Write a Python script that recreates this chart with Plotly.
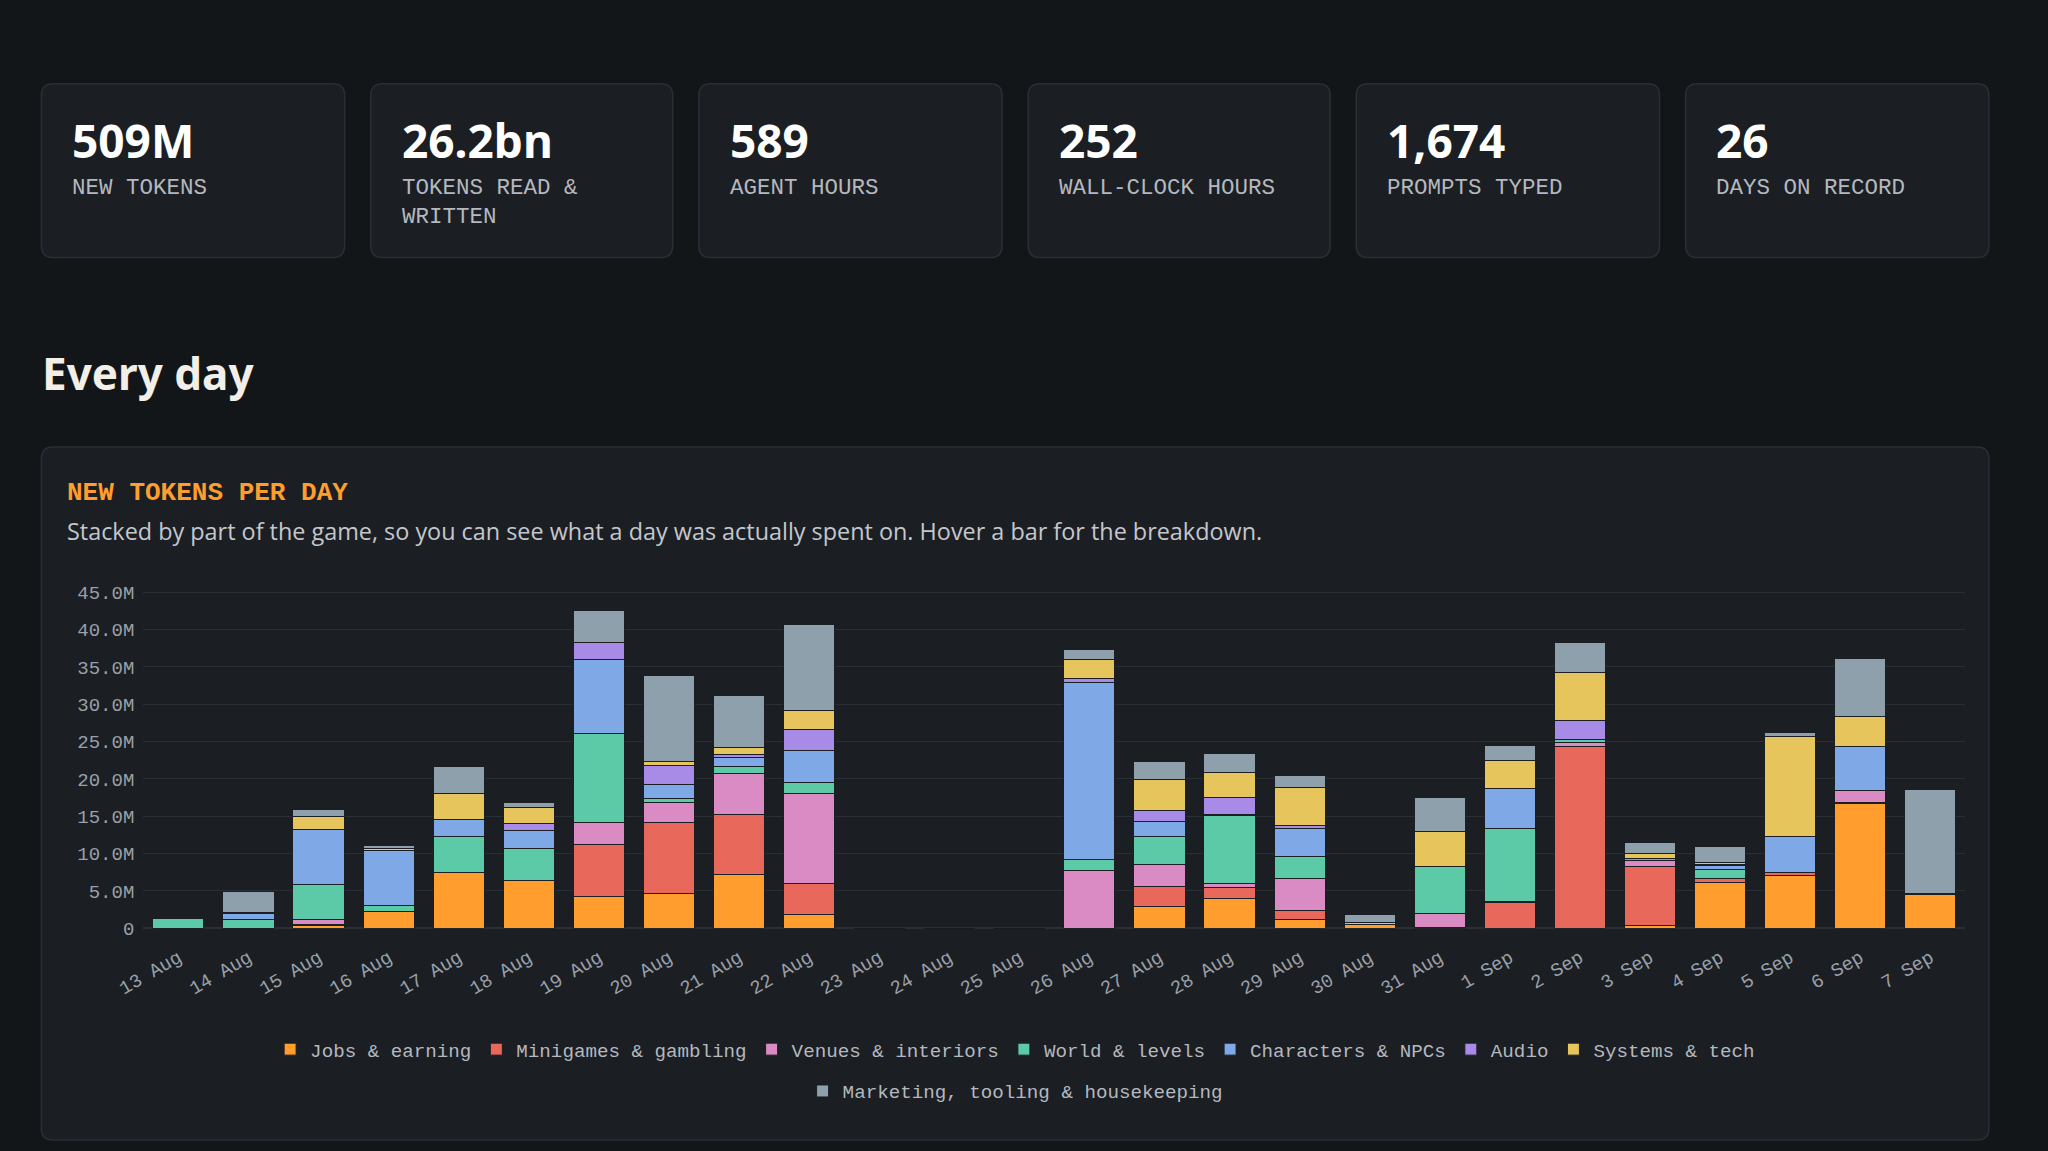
import plotly.graph_objects as go

days = ["13 Aug","14 Aug","15 Aug","16 Aug","17 Aug","18 Aug","19 Aug","20 Aug","21 Aug","22 Aug",
        "23 Aug","24 Aug","25 Aug","26 Aug","27 Aug","28 Aug","29 Aug","30 Aug","31 Aug","1 Sep",
        "2 Sep","3 Sep","4 Sep","5 Sep","6 Sep","7 Sep"]
# values in millions of tokens
jobs       = [0,0,0.4,2.3,7.5,6.4,4.2,4.7,7.2,1.8, 0,0,0, 0,2.9,4.0,1.2,0.5,0,0, 0,0.4,6.1,7.1,16.7,4.5]
minigames  = [0,0,0.15,0,0,0,7.0,9.4,8.0,4.2, 0,0,0, 0,2.7,1.4,1.2,0,0.1,3.4, 24.3,7.8,0.6,0.3,0.2,0.1]
venues     = [0,0,0.65,0,0,0,2.9,2.7,5.5,12.0, 0,0,0, 7.7,2.9,0.6,4.3,0,1.9,0.2, 0.6,0.8,0,0,1.5,0]
world      = [1.3,1.1,4.7,0.7,4.8,4.3,12.0,0.6,1.0,1.5, 0,0,0, 1.5,3.8,9.1,2.9,0,6.2,9.8, 0.4,0,1.1,0,0,0]
characters = [0,0.9,7.3,7.4,2.3,2.4,9.9,1.9,1.1,4.3, 0,0,0, 23.7,2.0,0.1,3.8,0,0,5.3, 0,0,0.6,4.9,5.9,0]
audio      = [0,0.1,0,0,0,0.9,2.2,2.5,0.4,2.8, 0,0,0, 0.6,1.4,2.3,0.4,0,0,0, 2.5,0.3,0.1,0,0,0]
systems    = [0,0,1.7,0.3,3.4,2.1,0.1,0.5,1.0,2.6, 0,0,0, 2.5,4.2,3.4,5.0,0.2,4.8,3.7, 6.5,0.7,0.3,13.4,4.1,0]
marketing  = [0,2.8,1.0,0.4,3.6,0.7,4.2,11.6,6.9,11.5, 0,0,0, 1.3,2.4,2.5,1.6,1.1,4.5,2.1, 3.9,1.5,2.2,0.5,7.7,14.0]

series_names = ["Jobs & earning","Minigames & gambling","Venues & interiors","World & levels",
                "Characters & NPCs","Audio","Systems & tech","Marketing, tooling & housekeeping"]
series_vals = [jobs,minigames,venues,world,characters,audio,systems,marketing]
colors = ["#FF9D2E","#E8695C","#DA8BC3","#5CC9A7","#7EA8E6","#A88BE6","#E6C65C","#8FA0AD"]

ytick_vals = [0,5,10,15,20,25,30,35,40,45]
ytick_text = ["0","5.0M","10.0M","15.0M","20.0M","25.0M","30.0M","35.0M","40.0M","45.0M"]

stat_values = ["509M","26.2bn","589","252","1,674","26"]
stat_labels = ["NEW TOKENS","TOKENS READ &<br>WRITTEN","AGENT HOURS","WALL-CLOCK HOURS","PROMPTS TYPED","DAYS ON RECORD"]

W, H = 2048, 1151
S = 0.755
def px(d): return ((d - 21) / S) / W          # layout positions given in screenshot units
def py(d): return 1 - ((d - 1.5) / S) / H

def rrect(x0, y0, x1, y1, r=9):
    # rounded rectangle path in paper coords; inputs in screenshot units
    rx = r / S / W
    ry = r / S / H
    X0, X1, Y0, Y1 = px(x0), px(x1), py(y1), py(y0)   # Y0 bottom, Y1 top
    return (f"M {X0+rx},{Y0} L {X1-rx},{Y0} Q {X1},{Y0} {X1},{Y0+ry} L {X1},{Y1-ry} "
            f"Q {X1},{Y1} {X1-rx},{Y1} L {X0+rx},{Y1} Q {X0},{Y1} {X0},{Y1-ry} "
            f"L {X0},{Y0+ry} Q {X0},{Y0} {X0+rx},{Y0} Z")

MONO = "Liberation Mono"
fig = go.Figure()
for i, (name, vals, c) in enumerate(zip(series_names, series_vals, colors)):
    fig.add_trace(go.Bar(x=days, y=vals, name=name, legend="legend" if i < 7 else "legend2",
                         marker=dict(color=c, line=dict(width=1, color="#1b1e23"))))

shapes = []
ann = []
card_x = [(32,264),(284,515),(535,767),(787,1018),(1038,1270),(1290,1522)]
for (x0,x1), v, l in zip(card_x, stat_values, stat_labels):
    shapes.append(dict(type="path", xref="paper", yref="paper", path=rrect(x0, 64, x1, 197),
                       fillcolor="#1b1e23", line=dict(color="#2a2e35", width=1.5), layer="below"))
    ann.append(dict(x=px(x0+22), y=py(107), xref="paper", yref="paper", text="<b>"+v+"</b>", showarrow=False,
                    xanchor="left", yanchor="middle", font=dict(family="Noto Sans", size=46, color="#ffffff")))
    ann.append(dict(x=px(x0+22), y=py(132), xref="paper", yref="paper", text=l, showarrow=False, align="left",
                    xanchor="left", yanchor="top", font=dict(family=MONO, size=22.5, color="#b4b8bf")))
# chart card
shapes.append(dict(type="path", xref="paper", yref="paper", path=rrect(32, 342, 1522, 872),
                   fillcolor="#1b1e23", line=dict(color="#2a2e35", width=1.5), layer="below"))
ann.append(dict(x=px(31), y=py(285), xref="paper", yref="paper", text="<b>Every day</b>", showarrow=False,
                xanchor="left", yanchor="middle", font=dict(family="Noto Sans", size=44, color="#f2efe8")))
ann.append(dict(x=px(50), y=py(377), xref="paper", yref="paper", text="<b>NEW TOKENS PER DAY</b>", showarrow=False,
                xanchor="left", yanchor="middle", font=dict(family=MONO, size=26, color="#FF9D2E")))
ann.append(dict(x=px(50), y=py(406), xref="paper", yref="paper",
                text="Stacked by part of the game, so you can see what a day was actually spent on. Hover a bar for the breakdown.",
                showarrow=False, xanchor="left", yanchor="middle", font=dict(family="Open Sans", size=23.4, color="#c4c7cc")))

zero_d, top45_d = 710, 453
top_d = zero_d - 46 * (zero_d - top45_d) / 45
legfont = dict(family=MONO, size=19.2, color="#b4b8bf")
fig.update_layout(
    width=W, height=H, autosize=False, margin=dict(l=0, r=0, t=0, b=0),
    paper_bgcolor="#131619", plot_bgcolor="rgba(0,0,0,0)",
    barmode="stack", bargap=0.27,
    shapes=shapes, annotations=ann,
    xaxis=dict(domain=[px(110), px(1504)], tickangle=-30, showgrid=False, zeroline=False,
               showline=False, ticks="outside", ticklen=10, tickcolor="rgba(0,0,0,0)",
               tickfont=dict(family=MONO, size=19, color="#9aa0a8")),
    yaxis=dict(domain=[py(zero_d), py(top_d)], range=[0, 46], tickvals=ytick_vals, ticktext=ytick_text,
               gridcolor="#2a2e35", zeroline=True, zerolinecolor="#2a2e35",
               tickfont=dict(family=MONO, size=19, color="#9aa0a8"), ticks="", ticklabelstandoff=8),
    legend=dict(orientation="h", x=px(777), xanchor="center", y=py(788), yanchor="top",
                font=legfont, bgcolor="rgba(0,0,0,0)", traceorder="normal", itemwidth=30),
    legend2=dict(orientation="h", x=px(777), xanchor="center", y=py(820), yanchor="top",
                 font=legfont, bgcolor="rgba(0,0,0,0)", itemwidth=30),
    font=dict(family=MONO),
)
fig.write_html("out.html", config={"displayModeBar": False},
               post_script="document.body.style.margin='0';document.body.style.background='#131619';document.body.style.overflow='hidden';")
